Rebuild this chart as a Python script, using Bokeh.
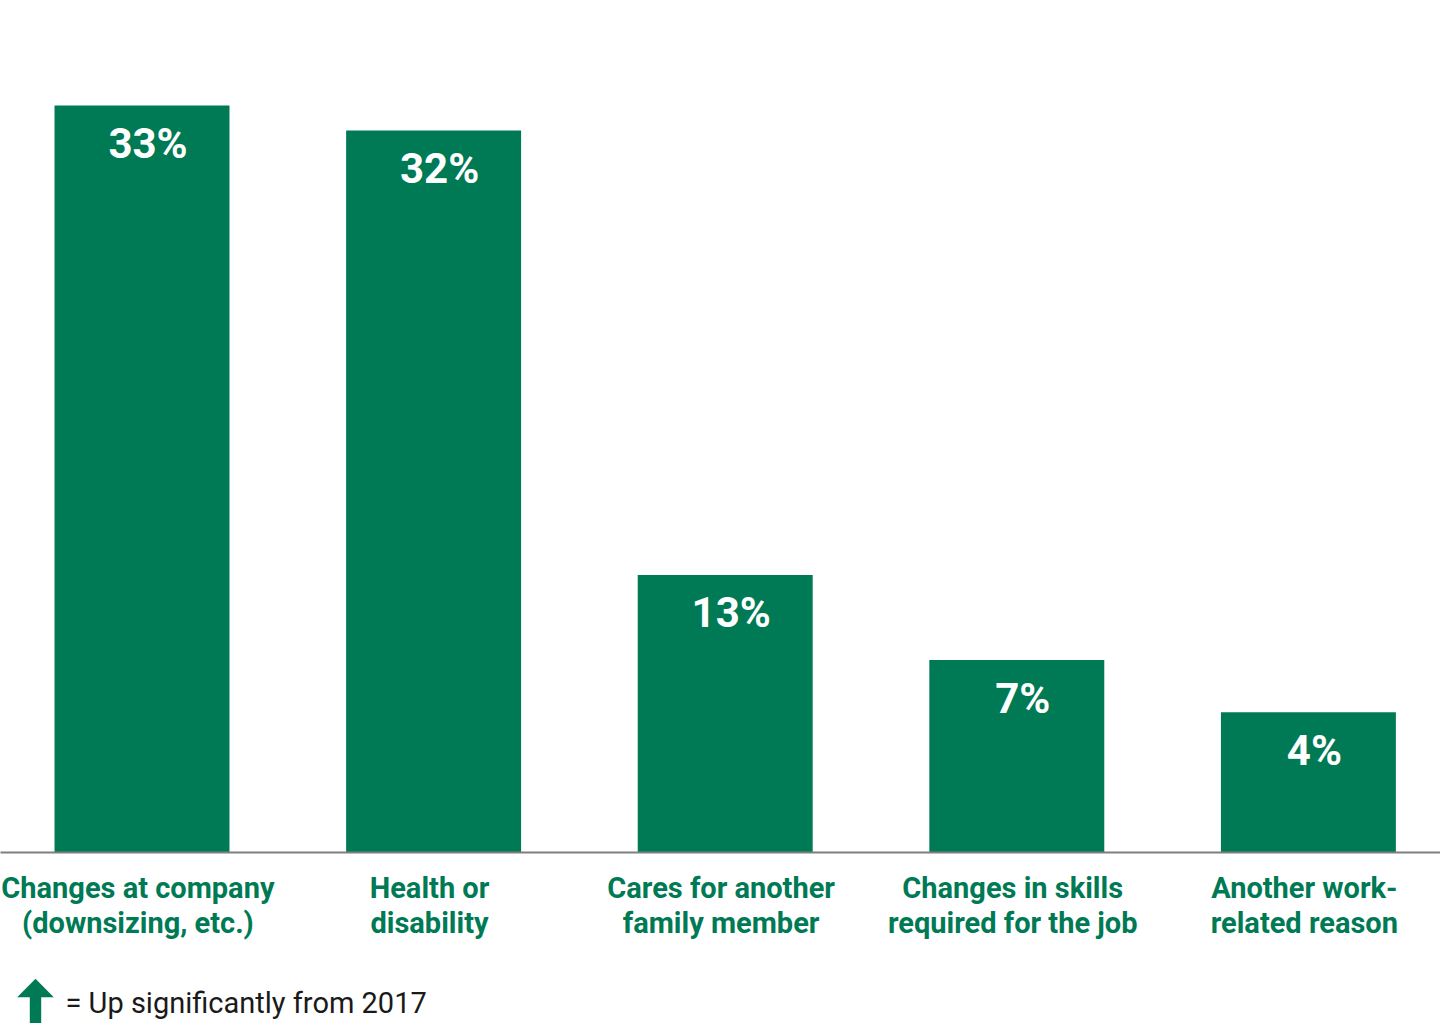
from bokeh.plotting import figure
from bokeh.models import Range1d, FixedTicker, ColumnDataSource
from bokeh.layouts import column
from bokeh.embed import file_html
from bokeh.resources import INLINE
from bokeh.core.properties import value

# ---- data ----
categories = [
    "Changes at company\n(downsizing, etc.)",
    "Health or\ndisability",
    "Cares for another\nfamily member",
    "Changes in skills\nrequired for the job",
    "Another work-\nrelated reason",
]
value_labels = ["33%", "32%", "13%", "7%", "4%"]
# bar heights as drawn in the reference (the drawing is not strictly to scale)
bar_heights = [33.0, 31.9, 12.26, 8.5, 6.2]
legend_text = "= Up significantly from 2017"

GREEN = "#007A55"
FONT = "Roboto"

positions = list(range(len(categories)))
tick_positions = [i - 0.014 for i in positions]
src = ColumnDataSource(dict(x=positions, h=bar_heights, lab=value_labels))

p = figure(
    frame_width=1440, frame_height=852,
    x_range=Range1d(-0.4853, 4.453), y_range=Range1d(0, 37.64),
    output_backend="svg", toolbar_location=None,
    y_axis_location=None,
    min_border_left=0, min_border_right=0, min_border_top=0, min_border_bottom=108,
    outline_line_color=None, background_fill_color="white", border_fill_color="white",
)
p.grid.visible = False

p.vbar(x="x", top="h", width=0.6, source=src, fill_color=GREEN, line_color=None)
p.text(x="x", y="h", text="lab", source=src,
       x_offset=6, y_offset=38,
       text_align="center", text_baseline="alphabetic",
       text_color="white", text_font=value(FONT), text_font_style="bold",
       text_font_size="42px")

ax = p.xaxis[0]
ax.ticker = FixedTicker(ticks=tick_positions)
ax.major_label_overrides = {t: c for t, c in zip(tick_positions, categories)}
ax.axis_line_color = "#7f7f7f"
ax.axis_line_width = 2
ax.major_tick_line_color = None
ax.minor_tick_line_color = None
ax.major_label_text_font = FONT
ax.major_label_text_font_style = "bold"
ax.major_label_text_font_size = "29px"
ax.major_label_text_color = GREEN
ax.major_label_text_line_height = 1.05
ax.major_label_standoff = 12

# ---- legend strip ----
leg = figure(
    frame_width=1440, frame_height=63,
    x_range=Range1d(0, 1440), y_range=Range1d(63, 0),
    output_backend="svg", toolbar_location=None,
    x_axis_location=None, y_axis_location=None,
    min_border=0, outline_line_color=None,
    background_fill_color="white", border_fill_color="white",
)
leg.grid.visible = False
arrow_xs = [16.7, 35.0, 53.3, 40.7, 40.7, 29.3, 29.3]
arrow_ys = [36.7, 18.3, 36.7, 36.7, 80.0, 80.0, 36.7]
leg.patch(arrow_xs, arrow_ys, fill_color=GREEN, line_color=None)
leg.text(x=[65], y=[42], text=[legend_text], text_baseline="alphabetic",
         text_align="left", text_color="#1a1a1a", text_font=value(FONT),
         text_font_size="29px")

layout = column(p, leg, spacing=0)
open("out.html", "w").write(file_html(layout, INLINE))
